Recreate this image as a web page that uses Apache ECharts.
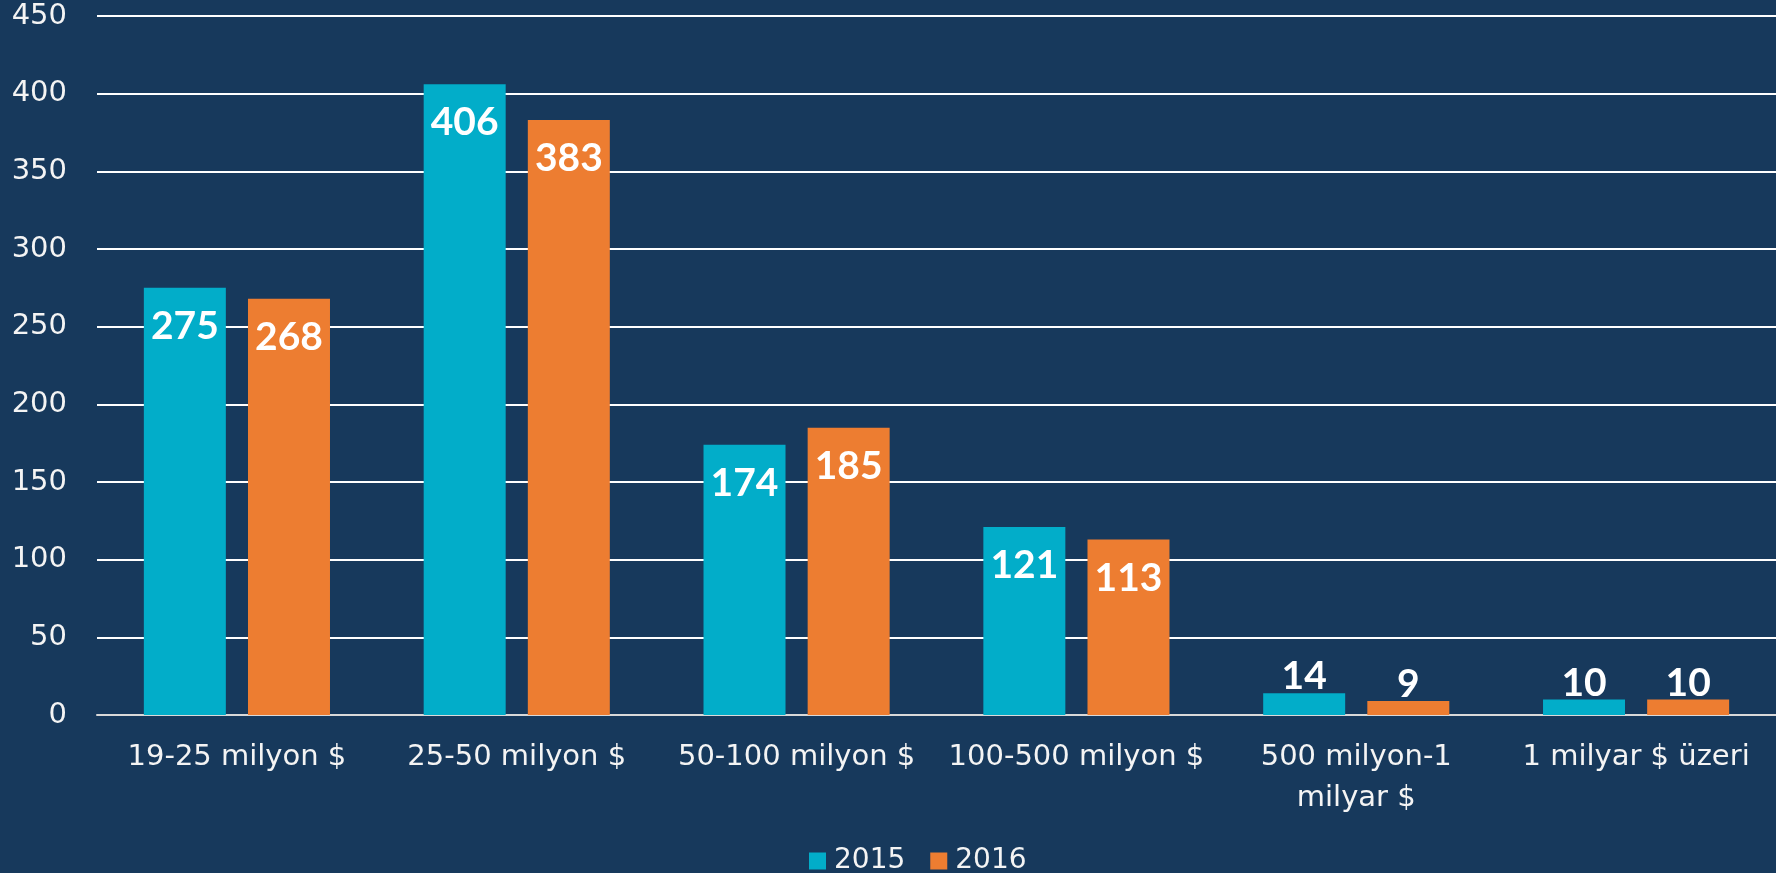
<!DOCTYPE html>
<html>
<head>
<meta charset="utf-8">
<script src="https://cdn.jsdelivr.net/npm/echarts@6/dist/echarts.min.js"></script>
<style>
html,body{margin:0;padding:0;background:#17395c;}
#chart{width:1776px;height:873px;}
</style>
</head>
<body>
<div id="chart"></div>
<script>
const categories = ['19-25 milyon $', '25-50 milyon $', '50-100 milyon $', '100-500 milyon $', '500 milyon-1\nmilyar $', '1 milyar $ üzeri'];
const values2015 = [275, 406, 174, 121, 14, 10];
const values2016 = [268, 383, 185, 113, 9, 10];
const yTicks = { min: 0, max: 450, interval: 50 };

const FONT = 'DejaVu Sans';
const BOLD_FONT = 'Lato';
function toData(arr) {
  return arr.map(v => ({
    value: v,
    label: v < 40 ? { position: 'top', distance: -3 } : { position: 'insideTop', distance: 19 }
  }));
}
const chart = echarts.init(document.getElementById('chart'));
chart.setOption({
  backgroundColor: '#17395c',
  animation: false,
  grid: { left: 97, right: 0, top: 16, bottom: 158, containLabel: false },
  legend: {
    top: 842, left: 804,
    itemWidth: 17, itemHeight: 17, itemGap: 25,
    icon: 'rect',
    textStyle: { color: '#f4f4f4', fontFamily: FONT, fontSize: 28, padding: [0, 0, 0, 3] },
    data: ['2015', '2016']
  },
  xAxis: {
    type: 'category',
    data: categories,
    axisLine: { show: true, lineStyle: { color: '#d9d9d9', width: 2 } },
    axisTick: { show: false },
    axisLabel: { color: '#f4f4f4', fontFamily: FONT, fontSize: 29, lineHeight: 41, margin: 22, interval: 0 }
  },
  yAxis: {
    type: 'value',
    min: yTicks.min, max: yTicks.max, interval: yTicks.interval,
    axisLine: { show: false },
    axisTick: { show: false },
    axisLabel: { color: '#f4f4f4', fontFamily: FONT, fontSize: 29, margin: 30 },
    splitLine: { lineStyle: { color: '#ffffff', width: 2 } }
  },
  series: [
    {
      name: '2015', type: 'bar', data: toData(values2015),
      itemStyle: { color: '#02adc9' },
      barWidth: 82, barGap: '27%',
      label: { show: true, color: '#ffffff', fontFamily: BOLD_FONT, fontWeight: 'bold', fontSize: 39 }
    },
    {
      name: '2016', type: 'bar', data: toData(values2016),
      itemStyle: { color: '#ed7d31' },
      barWidth: 82, barGap: '27%',
      label: { show: true, color: '#ffffff', fontFamily: BOLD_FONT, fontWeight: 'bold', fontSize: 39 }
    }
  ]
});
</script>
</body>
</html>
